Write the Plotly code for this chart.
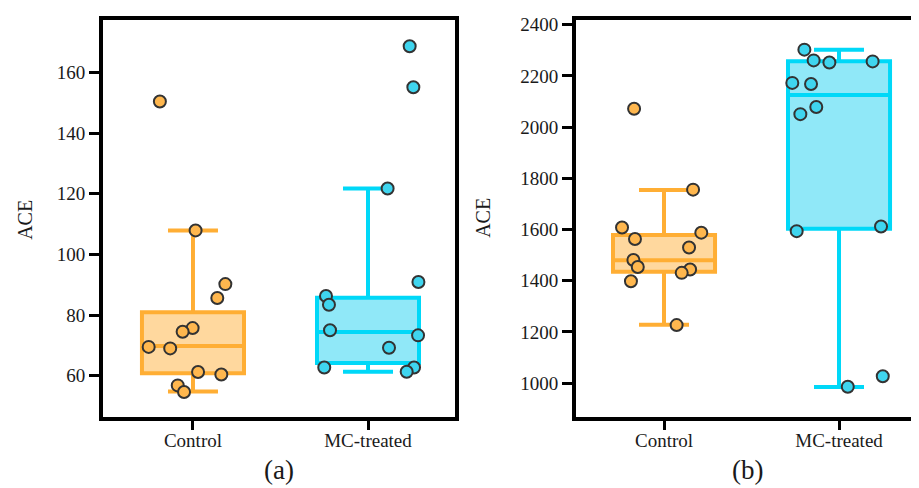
import plotly.graph_objects as go

# ---------------- data ----------------
categories = ["Control", "MC-treated"]

# panel (a) box statistics
a_q1 = [60.8, 64.2]
a_median = [69.8, 74.4]
a_q3 = [80.9, 85.7]
a_lower = [54.8, 61.3]
a_upper = [107.9, 121.7]

# panel (a) individual points (value, jitter offset)
a_ctrl_vals = [150.4, 107.9, 90.2, 85.6, 75.7, 74.5, 69.5, 69.0, 61.2, 60.4, 56.8, 54.6]
a_ctrl_jit = [-0.189, 0.015, 0.185, 0.139, -0.002, -0.059, -0.253, -0.13, 0.029, 0.162, -0.087, -0.051]
a_mc_vals = [168.6, 155.1, 121.7, 90.9, 86.3, 83.4, 75.0, 73.3, 69.2, 62.7, 62.7, 61.3]
a_mc_jit = [0.238, 0.259, 0.112, 0.288, -0.24, -0.223, -0.217, 0.286, 0.12, -0.25, 0.263, 0.221]

# panel (b) box statistics
b_q1 = [1435, 1603]
b_median = [1480, 2126]
b_q3 = [1579, 2258]
b_lower = [1228, 985]
b_upper = [1755, 2303]

# panel (b) individual points
b_ctrl_vals = [2072, 1756, 1608, 1563, 1588, 1530, 1481, 1454, 1444, 1431, 1398, 1227]
b_ctrl_jit = [-0.171, 0.166, -0.24, -0.166, 0.213, 0.143, -0.175, -0.15, 0.149, 0.101, -0.189, 0.072]
b_mc_vals = [2303, 2261, 2253, 2257, 2173, 2169, 2079, 2051, 1594, 1612, 1027, 986]
b_mc_jit = [-0.198, -0.145, -0.055, 0.192, -0.267, -0.16, -0.13, -0.221, -0.242, 0.24, 0.25, 0.05]

# ---------------- style ----------------
line_cols = ["#FFAE34", "#00D8F8"]
fill_cols = ["#FFD89E", "#90E8F8"]
pt_cols = ["#FFB74E", "#3FD5EF"]
FONT = "Liberation Serif, Times New Roman, serif"

# the page body has an 8px margin; compensate
OFF = 8
W, H = 919 - OFF, 488 - OFF

def px_x(p):
    return (p - OFF) / W

def px_y(p):
    return 1 - (p - OFF) / H

fig = go.Figure()

def add_panel(xa, ya, q1, med, q3, lo, up, pts):
    for i in range(2):
        fig.add_trace(go.Box(
            x=[i], q1=[q1[i]], median=[med[i]], q3=[q3[i]],
            lowerfence=[lo[i]], upperfence=[up[i]],
            width=0.583, whiskerwidth=0.49,
            line=dict(color=line_cols[i], width=4),
            fillcolor=fill_cols[i], boxpoints=False,
            xaxis=xa, yaxis=ya, showlegend=False, hoverinfo="skip"))
    for i, (vals, jit) in enumerate(pts):
        fig.add_trace(go.Scatter(
            x=[i + j for j in jit], y=vals, mode="markers",
            marker=dict(size=12, color=pt_cols[i],
                        line=dict(color="#333333", width=2)),
            xaxis=xa, yaxis=ya, showlegend=False, hoverinfo="skip"))

add_panel("x", "y", a_q1, a_median, a_q3, a_lower, a_upper,
          [(a_ctrl_vals, a_ctrl_jit), (a_mc_vals, a_mc_jit)])
add_panel("x2", "y2", b_q1, b_median, b_q3, b_lower, b_upper,
          [(b_ctrl_vals, b_ctrl_jit), (b_mc_vals, b_mc_jit)])

ydom = [px_y(416.5), px_y(15)]
tickfont = dict(family=FONT, size=19, color="#1a1a1a")
common_x = dict(tickvals=[0, 1], ticktext=categories, ticks="outside",
                ticklen=9, tickwidth=3, tickcolor="black", showline=True,
                linecolor="black", linewidth=4, mirror=True, showgrid=False,
                zeroline=False, tickfont=tickfont, ticklabelstandoff=-6)
common_y = dict(ticks="outside", ticklen=10, tickwidth=3, tickcolor="black",
                showline=True, linecolor="black", linewidth=4, showgrid=False,
                zeroline=False, tickfont=tickfont)

lab = dict(family=FONT, size=20, color="#1a1a1a")
panel_lab = dict(family=FONT, size=27, color="#1a1a1a")
ann = dict(xref="paper", yref="paper", showarrow=False,
           xanchor="center", yanchor="middle")

fig.update_layout(
    width=W, height=H, margin=dict(l=0, r=0, t=0, b=0),
    paper_bgcolor="white", plot_bgcolor="white",
    font=dict(family=FONT),
    xaxis=dict(domain=[px_x(103), px_x(455)], range=[-0.514, 1.497], **common_x),
    yaxis=dict(domain=ydom, range=[46.3, 177.3], tickvals=[60, 80, 100, 120, 140, 160],
               mirror=True, **common_y),
    xaxis2=dict(domain=[px_x(576), 1.0], range=[-0.503, 1.457], anchor="y2", **common_x),
    yaxis2=dict(domain=ydom, range=[867, 2419], anchor="x2",
                tickvals=[1000, 1200, 1400, 1600, 1800, 2000, 2200, 2400],
                mirror=False, **common_y),
    annotations=[
        dict(text="ACE", x=px_x(25), y=px_y(217), textangle=-90, font=lab, **ann),
        dict(text="ACE", x=px_x(483), y=px_y(215), textangle=-90, font=lab, **ann),
        dict(text="(a)", x=px_x(279), y=px_y(470), font=panel_lab, **ann),
        dict(text="(b)", x=px_x(747), y=px_y(470), font=panel_lab, **ann),
    ],
)

fig.write_html("out.html")
